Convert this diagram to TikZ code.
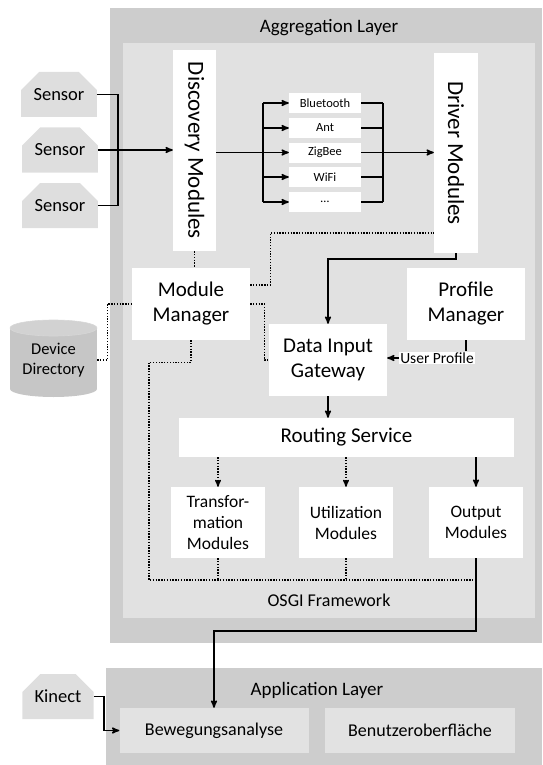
\documentclass[tikz,border=0pt]{standalone}
\usepackage{fontspec}
\setmainfont{Carlito}
\usetikzlibrary{arrows}
\usetikzlibrary{shapes.misc}

\definecolor{layergray}{RGB}{205,205,205}
\definecolor{framegray}{RGB}{225,225,225}
\definecolor{sensorgray}{RGB}{222,222,222}
\definecolor{appboxgray}{RGB}{226,226,226}
\definecolor{dbgray}{RGB}{198,198,198}
\definecolor{dbtop}{RGB}{210,210,210}

\tikzset{
 ftitle/.style={font=\fontsize{19}{23}\selectfont},
 fmod/.style={font=\fontsize{21}{25}\selectfont},
 fsmall/.style={font=\fontsize{17.5}{21}\selectfont},
 modbox/.style={fill=white, align=center, inner sep=1pt},
 protbox/.style={fill=white, minimum width=72pt, minimum height=20pt, inner sep=0pt, font=\fontsize{12.5}{15}\selectfont},
 sensorbox/.style={chamfered rectangle, chamfered rectangle corners={north west,north east},
   chamfered rectangle xsep=9pt, chamfered rectangle ysep=9pt, fill=sensorgray,
   minimum width=74pt, minimum height=45pt, font=\fontsize{18.5}{22}\selectfont},
 appbox/.style={fill=appboxgray, minimum width=189pt, minimum height=45pt, font=\fontsize{18}{22}\selectfont},
 conn/.style={black, line width=1.5pt},
 dotconn/.style={black, line width=1.4pt, dash pattern=on 1.3pt off 1.5pt},
}

\begin{document}
\begin{tikzpicture}[x=1pt,y=-1pt,>=stealth']
\useasboundingbox (0,0) rectangle (542,765);

% layers
\fill[layergray] (110,8) rectangle (542,643);
\fill[framegray] (123,43) rectangle (535,618);
\fill[layergray] (106,668) rectangle (542,765);
\node[ftitle] (agglabel) at (329,28) {Aggregation Layer};
\node[font=\fontsize{18}{22}\selectfont] (osgilabel) at (329,600) {OSGI Framework};
\node[ftitle] (applabel) at (317,690) {Application Layer};

% sensors
\node[sensorbox] (sensorA) at (59,94.5) {Sensor};
\node[sensorbox] (sensorB) at (60,150) {Sensor};
\node[sensorbox] (sensorC) at (60,205.5) {Sensor};

% discovery and driver
\node[modbox, minimum width=43pt, minimum height=201pt, font=\fontsize{23}{27}\selectfont]
  (disc) at (194.5,150.5) {\rotatebox{-90}{Discovery Modules}};
\node[modbox, minimum width=44pt, minimum height=200pt, font=\fontsize{23}{27}\selectfont]
  (drv) at (456,153) {\rotatebox{-90}{Driver Modules}};

% protocols
\node[protbox] (bt)   at (325,103)   {Bluetooth};
\node[protbox] (ant)  at (325,128)   {Ant};
\node[protbox] (zig)  at (325,152.5) {ZigBee};
\node[protbox] (wifi) at (325,177)   {WiFi};
\node[protbox] (more) at (325,202)   {\ldots};

% managers and gateway
\node[modbox, fmod, minimum width=118pt, minimum height=72pt] (mman) at (191,304) {Module\\Manager};
\node[modbox, fmod, minimum width=118pt, minimum height=72pt] (pman) at (466,304) {Profile\\Manager};
\node[modbox, fmod, minimum width=118pt, minimum height=72pt] (dig)  at (328,360) {Data Input\\Gateway};
\node[fill=white, inner sep=1pt, font=\fontsize{15.5}{18}\selectfont] (uprof) at (437,358) {User Profile};
\node[modbox, fmod, minimum width=335pt, minimum height=39pt] (route) at (346.5,437.5) {Routing Service};

% module row
\node[modbox, fsmall, minimum width=94pt, minimum height=71pt] (trans) at (218,522.5) {Transfor-\\mation\\Modules};
\node[modbox, fsmall, minimum width=94pt, minimum height=71pt] (util)  at (346,522.5) {Utilization\\Modules};
\node[modbox, fsmall, minimum width=94pt, minimum height=71pt] (outm)  at (476,522.5) {Output\\Modules};

% device directory
\fill[dbgray] (10,328) rectangle (97,389);
\fill[dbgray] (53.5,389) ellipse (43.5 and 8);
\filldraw[fill=dbtop, draw=dbgray!70!white, line width=.6pt] (53.5,328) ellipse (43.5 and 8);
\node[font=\fontsize{16.5}{20}\selectfont, align=center, minimum width=87pt, inner sep=0pt] (dirdb) at (53.5,360) {Device\\Directory};

% application layer
\node[sensorbox, minimum width=70pt] (kinect) at (58,696.5) {Kinect};
\node[appbox] (beweg)  at (214,730.5) {Bewegungsanalyse};
\node[appbox, minimum width=190pt] (benutz) at (420,730.5) {Benutzeroberfläche};

% sensor connectors
\coordinate (sj) at (118,150);
\draw[conn] (sensorA.east) -| (sj);
\draw[conn] (sensorC.east) -| (sj);
\draw[conn,->] (sensorB.east) -- (disc.west |- sensorB.east);

% protocol fan
\coordinate (pl) at (263,152.5);
\coordinate (pr) at (383,152.5);
\draw[conn] (disc.east |- zig) -- (pl);
\draw[conn] (pl |- bt) -- (pl |- more);
\draw[conn] (pr |- bt) -- (pr |- more);
\foreach \p in {bt,ant,zig,wifi,more} {
 \draw[conn,->] (pl |- \p) -- (\p.west);
 \draw[conn] (\p.east) -- (pr |- \p);
}
\draw[conn,->] (pr) -- (drv.west |- pr);

% management links (dotted)
\draw[dotconn] (disc.south) -- (disc.south |- mman.north);
\draw[dotconn] ([yshift=19pt]mman.east) -- ++(20,0) |- (drv.west |- 0,233);
\draw[dotconn] (mman.east) -- ++(14,0) |- (dig.west);
\draw[dotconn] (dirdb.east) -- ++(10,0) |- (mman.west);
\coordinate (busL) at (149,580);
\draw[dotconn] (mman.south) -- ++(0,22) -| (busL) -- (busL -| outm.south);
\draw[dotconn] (trans.south) -- (trans.south |- busL);
\draw[dotconn] (util.south) -- (util.south |- busL);

% data flow
\draw[conn,->] (drv.south) -- ++(0,6) -| (dig.north);
\draw[conn] (pman.south) -- (pman.south |- uprof.north);
\draw[conn,->] (uprof.west) -- (uprof.west -| dig.east);
\draw[conn,->] (dig.south) -- (dig.south |- route.north);
\draw[dotconn,->] (trans.north |- route.south) -- (trans.north);
\draw[dotconn,->] (util.north |- route.south) -- (util.north);
\draw[conn,->] (outm.north |- route.south) -- (outm.north);
\draw[conn,->] (outm.south) -- ++(0,73) -| (beweg.north);
\draw[conn,->] (kinect.east) -- ++(10,0) |- (beweg.west);
\end{tikzpicture}
\end{document}
